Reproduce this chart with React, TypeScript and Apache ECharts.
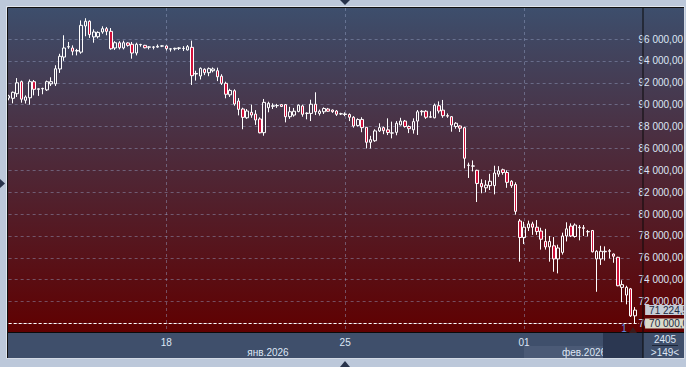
import { useEffect, useRef } from 'react';
import * as echarts from 'echarts';

// ---- data (4H candles) ----
const opens = [
  90600, 90580, 91000, 92100, 90400, 90630, 92100, 91400, 91450, 91350,
  91900, 91900, 93260, 94350, 95270, 95180, 94900, 94800, 97190, 97620,
  96190, 96210, 96640, 96940, 96700, 95180, 95650, 95180, 95640, 95520,
  94720, 95480, 95420, 95250, 95270, 95260, 95350, 95360, 95080, 95100,
  95150, 95150, 95000, 95240, 92800, 92620, 93230, 92920, 93100, 93100,
  92600, 91950, 90900, 91270, 90330, 89600, 88800, 89300, 89140, 88690,
  87440, 89720, 89850, 89900, 90000, 90000, 88900, 89050, 89380, 89880,
  89200, 89200, 90040, 89200, 89350, 89600, 89510, 89420, 89150, 89150,
  89100, 88850, 88100, 88650, 87930, 86560, 86700, 87600, 87900, 87700,
  87400, 87470, 88150, 88500, 88000, 87700, 88500, 89350, 89400, 88850,
  88800, 89900, 89500, 89000, 88900, 88000, 88050, 87900, 84450, 84380,
  84000, 82800, 82400, 82600, 82600, 83650, 84050, 83800, 83000, 82700,
  79370, 77860, 78750, 79100, 78800, 78450, 77500, 77000, 77100, 75900,
  76500, 78000, 78900, 77950, 78750, 78750, 78400, 78500, 75900, 75900,
  76550, 76600, 76350, 76050, 73300, 72600, 73170, 70700,
];
const closes = [
  90800, 91130, 92000, 90500, 90700, 92100, 91400, 91450, 91480, 92100,
  92100, 93280, 94420, 95180, 95300, 94880, 94950, 97250, 97620, 96400,
  96640, 96600, 96940, 96700, 95110, 95660, 95200, 95660, 95420, 94720,
  95520, 95500, 95200, 95280, 95250, 95330, 95370, 95120, 95100, 95150,
  95180, 95130, 95300, 92650, 92850, 93320, 92920, 93290, 93260, 92550,
  91950, 90950, 91300, 90060, 89570, 88840, 89420, 89050, 88600, 87430,
  90210, 90120, 89900, 89920, 89830, 88900, 89350, 89400, 89950, 89120,
  89220, 90040, 89350, 89400, 89650, 89400, 89360, 89120, 89170, 89100,
  88850, 88050, 88640, 87900, 86560, 86800, 87600, 87900, 87620, 87450,
  87420, 88300, 88500, 88000, 87800, 88450, 89350, 89400, 88850, 88900,
  89950, 89420, 88990, 88950, 88140, 88300, 87850, 85100, 84480, 84400,
  82800, 82500, 82650, 83000, 83750, 83950, 83800, 82900, 82600, 80250,
  77860, 78800, 79100, 78800, 78400, 77700, 77000, 77500, 75900, 76900,
  78000, 78650, 78000, 79000, 78800, 78700, 78380, 76550, 76600, 76600,
  76600, 76650, 76150, 73450, 73550, 73300, 70700, 71224.5,
];
const lows = [
  90400, 90120, 90700, 90180, 90100, 90000, 90850, 90800, 90950, 91250,
  91700, 91700, 92900, 94000, 95100, 94510, 94500, 94650, 96250, 96100,
  95660, 96050, 96480, 96340, 95020, 95000, 95050, 95050, 95300, 94200,
  94500, 95300, 95150, 95050, 95050, 95200, 95260, 94950, 94850, 94950,
  95000, 94900, 94950, 91800, 92200, 92300, 92700, 92600, 92950, 92150,
  91800, 90580, 90700, 89900, 89020, 87750, 88700, 88800, 88150, 87380,
  87160, 89300, 89600, 89700, 89780, 88380, 88700, 88900, 89300, 88900,
  88660, 88500, 89050, 89000, 89150, 89350, 89250, 88970, 89050, 88950,
  88500, 87900, 88000, 87480, 86000, 86000, 86600, 87500, 87300, 87220,
  86920, 87200, 88100, 87900, 87400, 87350, 87230, 89000, 88700, 88800,
  88750, 89200, 88800, 88800, 87530, 87800, 87500, 84180, 83300, 83900,
  81100, 81900, 82000, 82200, 81800, 83400, 83600, 82400, 82400, 79950,
  75650, 77260, 78450, 78100, 78100, 76750, 76750, 75650, 74730, 74580,
  76300, 77500, 77900, 77850, 77600, 78000, 77950, 76500, 72900, 75350,
  75750, 75950, 75550, 73400, 71950, 71750, 70600, 70000,
];
const highs = [
  90900, 91200, 92430, 92200, 90850, 92300, 92250, 91500, 91550, 92200,
  92500, 93600, 94650, 96340, 95730, 95420, 95100, 97700, 97900, 97700,
  96880, 96700, 97160, 97100, 97000, 95800, 95800, 95850, 95700, 95730,
  95660, 95560, 95470, 95350, 95350, 95500, 95420, 95420, 95150, 95200,
  95250, 95350, 95450, 95850, 93100, 93400, 93320, 93400, 93400, 93380,
  92780, 92100, 91450, 91400, 90600, 89720, 89600, 90000, 89500, 88840,
  90520, 90270, 90120, 90070, 90050, 90060, 89800, 89700, 90020, 90000,
  89300, 90450, 91130, 89550, 89750, 89700, 89550, 89510, 89260, 89300,
  89200, 88950, 88750, 88850, 87950, 87150, 87750, 88300, 88000, 88750,
  88450, 88500, 88800, 88600, 88100, 88750, 89510, 89500, 89500, 89400,
  90100, 90300, 90430, 89200, 88960, 88400, 88100, 87980, 84700, 84900,
  84050, 83180, 83100, 83680, 84420, 84380, 84150, 84000, 83100, 82900,
  79550, 79300, 79400, 79300, 79450, 78750, 78650, 78000, 77900, 77200,
  78300, 79250, 79150, 79150, 79000, 79000, 78550, 78550, 76700, 77100,
  77050, 76800, 76400, 76100, 73950, 73450, 73250, 71500,
];

const startTimeUtc = Date.UTC(2026, 0, 11, 20, 0);
const barHours = 4;
const extraSlots = 1;
const pad2 = (n: number) => (n < 10 ? '0' + n : String(n));
const categories = Array.from({ length: opens.length + extraSlots }, (_, i) => {
  const d = new Date(startTimeUtc + i * barHours * 3600000);
  return d.getUTCFullYear() + '-' + pad2(d.getUTCMonth() + 1) + '-' + pad2(d.getUTCDate()) + ' ' + pad2(d.getUTCHours()) + ':00';
});

const priceMin = 70000;
const priceMax = 96000;
const priceStep = 2000;
const lastPrice = 71224.5;
const alertLevel = 70000;
const monthLabels = ['янв.2026', 'фев.2026'];
const cornerTop = '2405';
const cornerBottom = '>149<';

const fmtPrice = (v: number) => {
  const i = Math.floor(v);
  const frac = (v - i).toFixed(2).slice(2);
  return String(i).replace(/\B(?=(\d{3})+(?!\d))/g, ' ') + ',' + frac;
};

// week separators: Sunday 00:00
const isWeekStart = (v: string) => {
  const d = new Date(v.replace(' ', 'T') + ':00Z');
  return d.getUTCDay() === 0 && d.getUTCHours() === 0;
};

const FONT = 'Liberation Sans, Arial, sans-serif';
const TXT = '#dde6f5';
const GRIDC = 'rgba(150,165,200,0.45)';

export default function App() {
  const ref = useRef<HTMLDivElement>(null);
  useEffect(() => {
    if (!ref.current) return;
    const chart = echarts.init(ref.current, null, { renderer: 'svg' });

    const plotTop = 8;
    const plotBottom = 333;
    const gridLeft = 8.63;
    const band = 4.26;
    const gridWidth = (categories.length - 1) * band;
    const bTop = 39;
    const bHeight = 284.5;
    const pxPerUnit = bHeight / (priceMax - priceMin);
    const aMin = priceMin - (plotBottom - (bTop + bHeight)) / pxPerUnit;
    const aMax = priceMax + (bTop - plotTop) / pxPerUnit;

    const candleData = opens.map((o, i) => [o, closes[i], lows[i], highs[i]]);

    const tagLabel = (text: string, bg: string) => ({
      show: true,
      position: 'end',
      distance: 6,
      formatter: () => text,
      backgroundColor: bg,
      color: '#1c2a42',
      fontSize: 10,
      fontFamily: FONT,
      padding: [0, 2, 0, 4],
      lineHeight: 10,
      opacity: 1,
    });

    chart.setOption({
      animation: false,
      backgroundColor: '#bcc8da',
      grid: [
        { left: gridLeft, top: plotTop, width: gridWidth, height: plotBottom - plotTop },
        { left: gridLeft, top: bTop, width: gridWidth, height: bHeight },
      ],
      xAxis: [
        {
          gridIndex: 0,
          type: 'category',
          data: categories,
          boundaryGap: false,
          axisLine: { show: false },
          axisTick: { show: false },
          axisLabel: {
            interval: (_i: number, v: string) => isWeekStart(v),
            formatter: (v: string) => (isWeekStart(v) ? v.slice(8, 10) : ''),
            color: TXT,
            fontSize: 10,
            fontFamily: FONT,
            margin: 4,
          },
          splitLine: {
            show: true,
            interval: (_i: number, v: string) => isWeekStart(v),
            lineStyle: { color: GRIDC, type: [3, 3], width: 1 },
          },
        },
        {
          gridIndex: 1,
          type: 'category',
          data: categories,
          boundaryGap: false,
          show: false,
        },
      ],
      yAxis: [
        { gridIndex: 0, type: 'value', min: aMin, max: aMax, show: false, splitLine: { show: false } },
        {
          gridIndex: 1,
          type: 'value',
          position: 'right',
          min: priceMin,
          max: priceMax,
          interval: priceStep,
          axisLine: { show: false },
          axisTick: { show: false },
          axisLabel: { color: TXT, fontSize: 10, fontFamily: FONT, margin: 7, formatter: (v: number) => fmtPrice(v) },
          splitLine: { show: true, lineStyle: { color: GRIDC, type: [3, 3], width: 1 } },
        },
      ],
      series: [
        {
          type: 'candlestick',
          xAxisIndex: 0,
          yAxisIndex: 0,
          data: candleData,
          barWidth: 3,
          clip: false,
          itemStyle: {
            color: 'rgba(0,0,0,0)',
            color0: '#d0103a',
            borderColor: '#ffffff',
            borderColor0: '#ffffff',
            borderWidth: 1,
          },
          markLine: {
            silent: true,
            symbol: ['none', 'none'],
            animation: false,
            data: [
              {
                yAxis: alertLevel,
                lineStyle: { color: '#ffffff', type: [3, 2], width: 1 },
                label: tagLabel(fmtPrice(alertLevel), '#d9dacb'),
              },
              {
                yAxis: lastPrice,
                lineStyle: { color: 'rgba(0,0,0,0)', width: 1, type: 'solid' },
                label: tagLabel(fmtPrice(lastPrice), '#c6ccd5'),
              },
            ],
          },
        },
        { type: 'line', xAxisIndex: 1, yAxisIndex: 1, data: [] },
      ],
      graphic: [
        {
          type: 'rect', z: -1, silent: true,
          shape: { x: 8, y: 8, width: 676, height: 325 },
          style: {
            fill: new echarts.graphic.LinearGradient(0, 0, 0, 1, [
              { offset: 0, color: '#3d4e6c' },
              { offset: 1, color: '#600000' },
            ]),
          },
        },
        { type: 'rect', z: -1, silent: true, shape: { x: 8, y: 333, width: 676, height: 25 }, style: { fill: '#3f4f6b' } },
        { type: 'rect', z: 1, silent: true, shape: { x: 524, y: 346, width: 79, height: 12 }, style: { fill: '#4b5a76' } },
        { type: 'text', z: 2, silent: true, x: 268, y: 352, style: { text: monthLabels[0], fill: TXT, font: '10px ' + FONT, align: 'center', verticalAlign: 'middle' } },
        { type: 'text', z: 2, silent: true, x: 584, y: 352, style: { text: monthLabels[1], fill: TXT, font: '10px ' + FONT, align: 'center', verticalAlign: 'middle' } },
        { type: 'rect', z: 3, silent: true, shape: { x: 603, y: 333, width: 40, height: 25 }, style: { fill: '#2b3751' } },
        { type: 'line', z: 20, silent: true, shape: { x1: 8, y1: 332.5, x2: 684, y2: 332.5 }, style: { stroke: '#0a0a0a', lineWidth: 1 } },
        { type: 'line', z: 20, silent: true, shape: { x1: 643, y1: 8, x2: 643, y2: 358 }, style: { stroke: '#0a0a0a', lineWidth: 1 } },
        { type: 'text', z: 20, silent: true, x: 665, y: 339, style: { text: cornerTop, fill: TXT, font: '10px ' + FONT, align: 'center', verticalAlign: 'middle' } },
        { type: 'line', z: 20, silent: true, shape: { x1: 652, y1: 345.5, x2: 678, y2: 345.5 }, style: { stroke: '#1e2738', lineWidth: 1 } },
        { type: 'text', z: 20, silent: true, x: 665, y: 352, style: { text: cornerBottom, fill: TXT, font: '10px ' + FONT, align: 'center', verticalAlign: 'middle' } },
        { type: 'text', z: 20, silent: true, x: 624, y: 328, style: { text: '1', fill: '#5b8ee6', font: '10px ' + FONT, align: 'center', verticalAlign: 'middle' } },
        { type: 'polygon', z: 20, silent: true, shape: { points: [[629, 333], [637, 333], [633, 327]] }, style: { fill: '#3a1c1c' } },
        // frame covers
        { type: 'rect', z: 100, silent: true, shape: { x: 0, y: 0, width: 7, height: 367 }, style: { fill: '#bcc8da' } },
        { type: 'rect', z: 100, silent: true, shape: { x: 0, y: 0, width: 686, height: 7 }, style: { fill: '#bcc8da' } },
        { type: 'rect', z: 100, silent: true, shape: { x: 684, y: 0, width: 2, height: 367 }, style: { fill: '#bcc8da' } },
        { type: 'rect', z: 100, silent: true, shape: { x: 0, y: 358, width: 686, height: 9 }, style: { fill: '#bcc8da' } },
        { type: 'line', z: 101, silent: true, shape: { x1: 6.5, y1: 6.5, x2: 684.5, y2: 6.5 }, style: { stroke: '#dfe5ee', lineWidth: 1 } },
        { type: 'line', z: 101, silent: true, shape: { x1: 6.5, y1: 6.5, x2: 6.5, y2: 358.5 }, style: { stroke: '#dfe5ee', lineWidth: 1 } },
        { type: 'line', z: 101, silent: true, shape: { x1: 7.5, y1: 7.5, x2: 684, y2: 7.5 }, style: { stroke: '#101010', lineWidth: 1 } },
        { type: 'line', z: 101, silent: true, shape: { x1: 7.5, y1: 7.5, x2: 7.5, y2: 358 }, style: { stroke: '#101010', lineWidth: 1 } },
        { type: 'line', z: 101, silent: true, shape: { x1: 684.5, y1: 7, x2: 684.5, y2: 358.5 }, style: { stroke: '#d3dae5', lineWidth: 1 } },
        { type: 'line', z: 101, silent: true, shape: { x1: 7, y1: 358.5, x2: 684.5, y2: 358.5 }, style: { stroke: '#d3dae5', lineWidth: 1 } },
        { type: 'polygon', z: 102, silent: true, shape: { points: [[340, 0], [350, 0], [345, 5]] }, style: { fill: '#27324a' } },
        { type: 'polygon', z: 102, silent: true, shape: { points: [[340, 367], [350, 367], [345, 361]] }, style: { fill: '#27324a' } },
        { type: 'polygon', z: 102, silent: true, shape: { points: [[0, 179], [0, 188], [5, 183.5]] }, style: { fill: '#27324a' } },
      ],
    });
    return () => chart.dispose();
  }, []);
  return <div ref={ref} style={{ position: 'fixed', left: 0, top: 0, width: 686, height: 367 }} />;
}
